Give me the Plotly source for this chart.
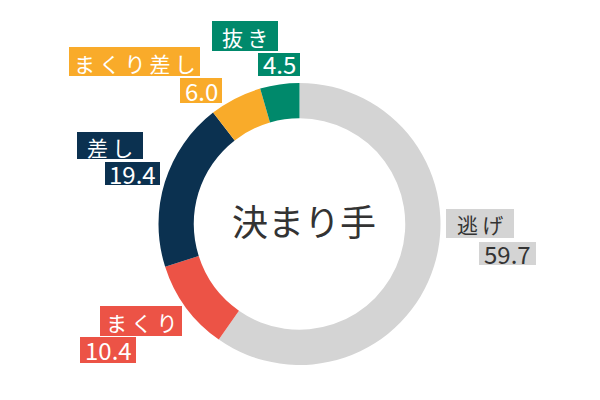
import plotly.graph_objects as go

# 決まり手 share (%)
labels = ["逃げ", "まくり", "差し", "まくり差し", "抜き"]
values = [59.7, 10.4, 19.4, 6.0, 4.5]
colors = ["#d4d4d4", "#ec5346", "#0b3150", "#f9ab2a", "#00896b"]
text_colors = ["#333333", "#ffffff", "#ffffff", "#ffffff", "#ffffff"]

# label boxes in screen pixels: (centre x, centre y, width, height)
name_box = [(480, 223.5, 68, 29), (141, 321, 82, 30), (110, 145.5, 66, 27),
            (134.5, 61.5, 131, 29), (245, 36, 66, 30)]
value_box = [(507.5, 253.5, 57, 23), (108, 350, 56, 26), (132.5, 173.5, 55, 23),
             (201, 90.5, 42, 25), (279, 64.5, 42, 23)]

W, H = 600, 400
OFF = 8  # page body margin in the browser
FONT = "Noto Sans CJK JP"


def px(x):
    return (x - OFF) / W


def py(y):
    return 1 - (y - OFF) / H


fig = go.Figure(go.Pie(
    labels=labels,
    values=values,
    marker=dict(colors=colors),
    hole=0.75,
    sort=False,
    direction="clockwise",
    rotation=0,
    textinfo="none",
    hoverinfo="label+value",
    domain=dict(x=[px(158), px(441)], y=[py(365), py(83)]),
    showlegend=False,
))

shapes = []
annotations = []
for i, lab in enumerate(labels):
    for (cx, cy, bw, bh), txt, size, shift in (
        (name_box[i], "\u2009".join(lab), 21, -1),
        (value_box[i], f"{values[i]:.1f}", 24, 0.5),
    ):
        shapes.append(dict(
            type="rect", xref="paper", yref="paper",
            x0=px(cx - bw / 2), x1=px(cx + bw / 2),
            y0=py(cy + bh / 2), y1=py(cy - bh / 2),
            fillcolor=colors[i], line=dict(width=0), layer="below",
        ))
        annotations.append(dict(
            x=px(cx), y=py(cy), xref="paper", yref="paper", yshift=shift,
            text=txt, showarrow=False, xanchor="center", yanchor="middle",
            font=dict(family=FONT, size=size, color=text_colors[i]),
        ))

annotations.append(dict(
    x=px(304), y=py(220), xref="paper", yref="paper",
    text="決まり手", showarrow=False, xanchor="center", yanchor="middle",
    font=dict(family=FONT, size=36, color="#333333"),
))

fig.update_layout(
    width=W, height=H,
    margin=dict(l=0, r=0, t=0, b=0),
    paper_bgcolor="white",
    plot_bgcolor="white",
    shapes=shapes,
    annotations=annotations,
)

fig.write_html("out.html")
